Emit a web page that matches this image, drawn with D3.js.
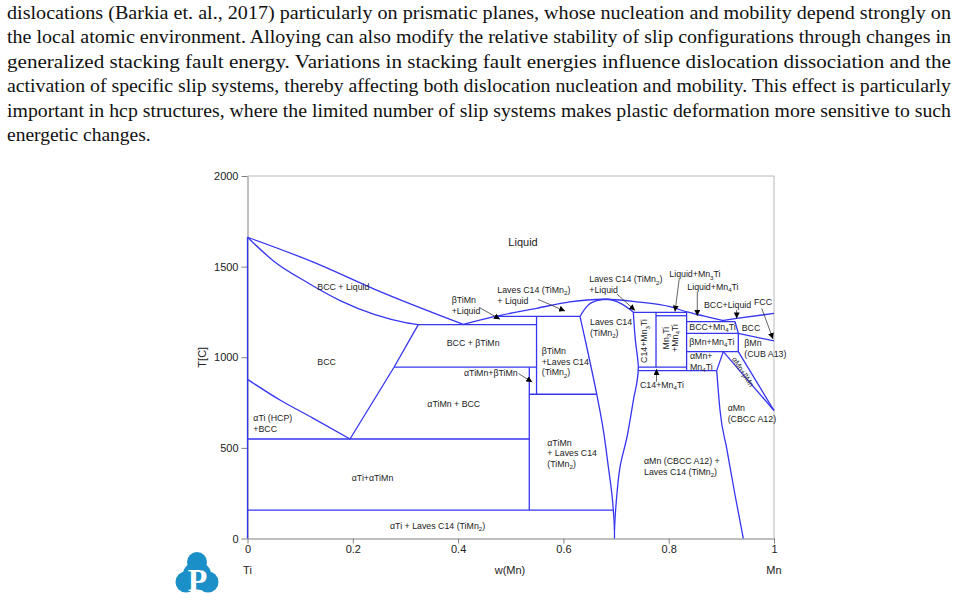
<!DOCTYPE html>
<html>
<head>
<meta charset="utf-8">
<script src="https://cdn.jsdelivr.net/npm/d3@7"></script>
<style>
  body { margin: 0; background: #fff; }
  svg { display: block; }
</style>
</head>
<body>
<svg id="page" width="957" height="600"></svg>
<script>
// text above the figure
const paragraph = [
  "dislocations (Barkia et. al., 2017) particularly on prismatic planes, whose nucleation and mobility depend strongly on",
  "the local atomic environment. Alloying can also modify the relative stability of slip configurations through changes in",
  "generalized stacking fault energy. Variations in stacking fault energies influence dislocation dissociation and the",
  "activation of specific slip systems, thereby affecting both dislocation nucleation and mobility. This effect is particularly",
  "important in hcp structures, where the limited number of slip systems makes plastic deformation more sensitive to such",
  "energetic changes."
];

// axes
const wTicks = [0, 0.2, 0.4, 0.6, 0.8, 1];
const tTicks = [0, 500, 1000, 1500, 2000];

// phase boundaries as [w(Mn), T(C)], curved ones
const liquidusTi = [[0, 1662], [0.125, 1525], [0.252, 1362], [0.41, 1181]];
const liquidusMid = [[0.41, 1181], [0.47, 1225], [0.549, 1270], [0.6125, 1306], [0.6758, 1320],
  [0.739, 1306], [0.8025, 1279], [0.8348, 1250], [0.8657, 1228], [0.9031, 1203]];
const liquidusMn = [[0.9031, 1203], [0.9291, 1214], [1, 1242]];
const solidusBcc = [[0, 1662], [0.05, 1530], [0.115, 1410], [0.178, 1310], [0.242, 1235], [0.3024, 1190], [0.3244, 1180]];
const alphaTi = [[0, 878], [0.0617, 764], [0.125, 663], [0.1947, 549]];
const lavesDome = [[0.6315, 1225], [0.6443, 1279], [0.6633, 1312], [0.6847, 1320], [0.7075, 1299], [0.7328, 1250]];
const lavesLeft = [[0.6315, 1225], [0.6443, 1058], [0.6633, 796], [0.6758, 599], [0.6853, 396],
  [0.6923, 240], [0.6961, 102], [0.697, 47]];
const lavesRight = [[0.7328, 1250], [0.7365, 1100], [0.7423, 945], [0.7395, 860], [0.7341, 781],
  [0.7208, 560], [0.7075, 394], [0.6999, 185], [0.697, 47]];
const alphaMnSolvus = [[0.8912, 926], [0.8974, 709], [0.9107, 489], [0.926, 240], [0.9417, 0]];

// straight boundaries (tie lines, invariants)
const straight = [
  [[0, 0], [0, 1662]],
  [[0.3244, 1180], [0.2783, 945], [0.1947, 549]],
  [[0.3244, 1180], [0.549, 1180]],
  [[0.47, 1225], [0.6315, 1225]],
  [[0.549, 1225], [0.549, 796]],
  [[0.5352, 945], [0.5352, 157]],
  [[0.2783, 945], [0.549, 945]],
  [[0.5352, 796], [0.6633, 796]],
  [[0, 549], [0.5352, 549]],
  [[0, 157], [0.6955, 157]],
  [[0.697, 47], [0.697, 0]],
  [[0.7328, 1248], [0.834, 1248]],
  [[0.7759, 1229], [0.834, 1229]],
  [[0.7759, 1248], [0.7759, 945]],
  [[0.834, 1248], [0.834, 926]],
  [[0.7423, 945], [0.834, 945]],
  [[0.7422, 926], [0.8912, 926]],
  [[0.834, 1197], [0.9259, 1197]],
  [[0.9259, 1197], [0.9322, 1132], [0.9322, 1031]],
  [[0.834, 1132], [0.9322, 1132]],
  [[0.834, 1031], [0.9322, 1031]],
  [[0.9322, 1132], [1, 1090]],
  [[0.9037, 1031], [0.8912, 926]],
  [[0.9037, 1031], [1, 706]],
  [[0.9322, 1031], [1, 706]]
];

// region names, "_n" = subscript
const regionLabels = [
  { t: ["Liquid"], at: [0.5233, 1636], size: 11, anchor: "middle" },
  { t: ["BCC + Liquid"], at: [0.1326, 1389] },
  { t: ["βTiMn", "+Liquid"], at: [0.3878, 1316] },
  { t: ["Laves C14 (TiMn_2)", "+ Liquid"], at: [0.4745, 1371] },
  { t: ["Laves C14 (TiMn_2)", "+Liquid"], at: [0.6492, 1430] },
  { t: ["BCC + βTiMn"], at: [0.3783, 1077] },
  { t: ["BCC"], at: [0.1326, 972] },
  { t: ["αTiMn+βTiMn"], at: [0.4112, 911] },
  { t: ["αTiMn + BCC"], at: [0.3415, 740] },
  { t: ["αTi (HCP)", "+BCC"], at: [0.011, 663] },
  { t: ["αTi+αTiMn"], at: [0.198, 332] },
  { t: ["αTi + Laves C14 (TiMn_2)"], at: [0.2707, 71] },
  { t: ["βTiMn", "+Laves C14", "(TiMn_2)"], at: [0.5588, 1036] },
  { t: ["Laves C14", "(TiMn_2)"], at: [0.6505, 1193] },
  { t: ["αTiMn", "+ Laves C14", "(TiMn_2)"], at: [0.5694, 529] },
  { t: ["αMn (CBCC A12) +", "Laves C14 (TiMn_2)"], at: [0.7531, 429] },
  { t: ["αMn", "(CBCC A12)"], at: [0.912, 722] },
  { t: ["C14+Mn_4Ti"], at: [0.7455, 847] },
  { t: ["Liquid+Mn_3Ti"], at: [0.8011, 1458] },
  { t: ["Liquid+Mn_4Ti"], at: [0.8353, 1389] },
  { t: ["BCC+Liquid"], at: [0.867, 1288] },
  { t: ["FCC"], at: [0.962, 1307] },
  { t: ["BCC+Mn_4Ti"], at: [0.8391, 1169] },
  { t: ["BCC"], at: [0.9386, 1160] },
  { t: ["βMn+Mn_4Ti"], at: [0.8391, 1086] },
  { t: ["βMn", "(CUB A13)"], at: [0.9436, 1077] },
  { t: ["αMn+", "Mn_4Ti"], at: [0.8405, 1007] },
  { t: ["C14+Mn_3Ti"], at: [0.7536, 1090], rotate: -90, anchor: "middle" },
  { t: ["Mn_3Ti", "+Mn_4Ti"], at: [0.7949, 1106], rotate: -90, anchor: "middle", lead: 9 },
  { t: ["αMn+βMn"], at: [0.9411, 919], rotate: 57.5, anchor: "middle", size: 7.5 }
];

// leader arrows [from, to]
const arrows = [
  [[0.4416, 1272], [0.4796, 1210]],
  [[0.5518, 1319], [0.6031, 1255]],
  [[0.5147, 910], [0.5409, 863]],
  [[0.7018, 1349], [0.736, 1258]],
  [[0.8201, 1436], [0.812, 1252]],
  [[0.8543, 1362], [0.8543, 1228]],
  [[0.9291, 1261], [0.9291, 1214]],
  [[0.9766, 1270], [0.9981, 1101]],
  [[0.7769, 865], [0.7769, 935]]
];

const svg = d3.select("#page");
const sans = "'Liberation Sans', Arial, sans-serif";
const blue = "#3535f2";

// paragraph
svg.append("g")
  .selectAll("text")
  .data(paragraph)
  .join("text")
  .attr("x", 7)
  .attr("y", (d, i) => 19 + i * 24.4)
  .attr("textLength", (d, i) => i < paragraph.length - 1 ? 944 : null)
  .attr("lengthAdjust", "spacingAndGlyphs")
  .attr("font-family", "'Liberation Serif', 'Times New Roman', serif")
  .attr("font-size", 19.5)
  .attr("fill", "#111")
  .text(d => d);

const x = d3.scaleLinear().domain([0, 1]).range([247.5, 774]);
const y = d3.scaleLinear().domain([0, 2000]).range([538.5, 176]);

// frame on top and right
svg.append("path")
  .attr("d", `M${x(0)},${y(2000)}H${x(1)}V${y(0)}`)
  .attr("fill", "none")
  .attr("stroke", "#b8b8b8");

const gy = svg.append("g")
  .attr("transform", `translate(${x(0)},0)`)
  .call(d3.axisLeft(y).tickValues(tTicks).tickFormat(d3.format("d")).tickSize(6).tickSizeOuter(0).tickPadding(3));
const gx = svg.append("g")
  .attr("transform", `translate(0,${y(0)})`)
  .call(d3.axisBottom(x).tickValues(wTicks).tickFormat(d3.format("~g")).tickSize(5).tickSizeOuter(0).tickPadding(2));
[gx, gy].forEach(g => {
  g.attr("font-family", sans).attr("font-size", 11);
  g.selectAll("path, line").attr("stroke", "#808080");
  g.selectAll("text").attr("fill", "#222");
});

// axis titles
svg.append("text").attr("transform", `translate(206,${y(1000)}) rotate(-90)`)
  .attr("text-anchor", "middle").attr("font-family", sans).attr("font-size", 11).attr("fill", "#222")
  .text("T[C]");
[["Ti", 0], ["w(Mn)", 0.5], ["Mn", 1]].forEach(([s, w]) => {
  svg.append("text").attr("x", w === 0.5 ? 510 : x(w)).attr("y", 574)
    .attr("text-anchor", "middle").attr("font-family", sans).attr("font-size", 11).attr("fill", "#222")
    .text(s);
});

// boundaries
const plot = svg.append("g").attr("fill", "none").attr("stroke", blue).attr("stroke-width", 1.3);
const straightLine = d3.line().x(d => x(d[0])).y(d => y(d[1]));
const smoothX = d3.line().curve(d3.curveMonotoneX).x(d => x(d[0])).y(d => y(d[1]));
const curvedLine = d3.line().curve(d3.curveCatmullRom.alpha(0.5)).x(d => x(d[0])).y(d => y(d[1]));

[liquidusTi, liquidusMid, liquidusMn, solidusBcc, alphaTi, lavesDome, alphaMnSolvus]
  .forEach(b => plot.append("path").attr("d", smoothX(b)));
[lavesLeft, lavesRight].forEach(b => plot.append("path").attr("d", curvedLine(b)));
straight.forEach(b => plot.append("path").attr("d", straightLine(b)));

// arrows
svg.append("defs").append("marker")
  .attr("id", "tri")
  .attr("viewBox", "0 -3 6 6")
  .attr("refX", 6).attr("refY", 0)
  .attr("markerWidth", 6).attr("markerHeight", 6)
  .attr("markerUnits", "userSpaceOnUse")
  .attr("orient", "auto")
  .append("path").attr("d", "M0,-3L6,0L0,3Z").attr("fill", "#000");

svg.append("g").selectAll("path")
  .data(arrows)
  .join("path")
  .attr("d", d => straightLine(d))
  .attr("stroke", "#222")
  .attr("stroke-width", 0.7)
  .attr("marker-end", "url(#tri)");

// labels
function richText(sel, str, size) {
  const parts = str.split(/_(\d)/);
  let shifted = false;
  parts.forEach((p, i) => {
    if (!p) return;
    const sub = i % 2 === 1;
    const ts = sel.append("tspan").text(p);
    if (sub) { ts.attr("font-size", size * 0.7).attr("dy", size * 0.25); shifted = true; }
    else if (shifted) { ts.attr("dy", -size * 0.25); shifted = false; }
  });
}

regionLabels.forEach(l => {
  const size = l.size || 8.8;
  const lead = l.lead || 10.8;
  const g = svg.append("g")
    .attr("transform", `translate(${x(l.at[0])},${y(l.at[1])}) rotate(${l.rotate || 0})`);
  l.t.forEach((s, i) => {
    const t = g.append("text")
      .attr("x", 0)
      .attr("y", i * lead + size * 0.35)
      .attr("text-anchor", l.anchor || "start")
      .attr("font-family", sans)
      .attr("font-size", size)
      .attr("fill", "#222");
    richText(t, s, size);
  });
});

// logo
const logo = svg.append("g").attr("fill", "#1b8fc7");
[[197, 562, 10], [186, 582, 10.5], [208, 582, 10.5], [197, 576, 14.5]].forEach(c =>
  logo.append("circle").attr("cx", c[0]).attr("cy", c[1]).attr("r", c[2]));
svg.append("text").attr("x", 197.5).attr("y", 591)
  .attr("text-anchor", "middle")
  .attr("font-family", "'Liberation Serif', serif")
  .attr("font-weight", "bold")
  .attr("font-size", 32)
  .attr("fill", "#fff")
  .text("P");
</script>
</body>
</html>
